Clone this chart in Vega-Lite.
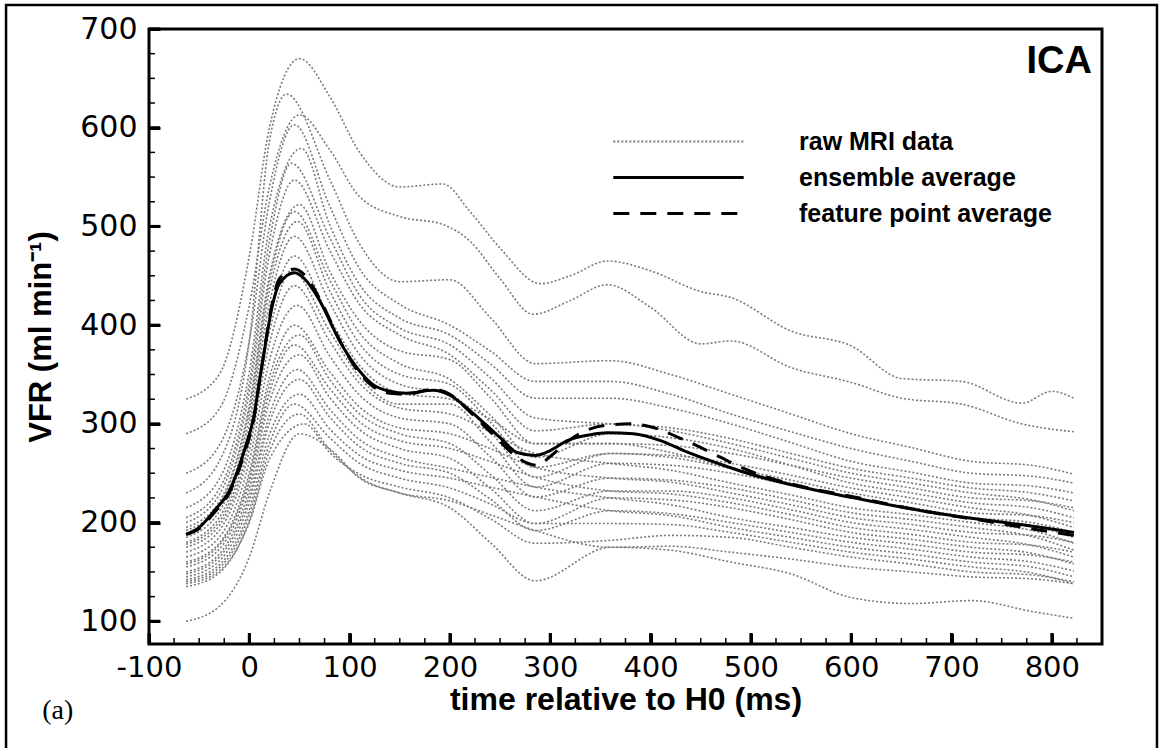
{
"$schema":"https://vega.github.io/schema/vega-lite/v6.json",
"width":953,"height":615,"autosize":"none",
"padding":{"left":149,"top":29,"right":58,"bottom":104},
"background":"white",
"config":{"view":{"stroke":"#000","strokeWidth":3},"font":"Liberation Sans","axis":{"ticks":true}},
"resolve":{"axis":{"x":"independent","y":"independent"}},
"datasets":{
"raw":[
{"c":1,"t":-63,"v":325},{"c":1,"t":-30,"v":350},{"c":1,"t":0,"v":470},{"c":1,"t":20,"v":600},{"c":1,"t":50,"v":670},{"c":1,"t":80,"v":632},{"c":1,"t":110,"v":575},{"c":1,"t":150,"v":540},{"c":1,"t":193,"v":543},{"c":1,"t":220,"v":515},{"c":1,"t":250,"v":478},{"c":1,"t":290,"v":442},{"c":1,"t":320,"v":450},{"c":1,"t":357,"v":465},{"c":1,"t":400,"v":455},{"c":1,"t":450,"v":434},{"c":1,"t":480,"v":428},{"c":1,"t":540,"v":394},{"c":1,"t":600,"v":379},{"c":1,"t":650,"v":346},{"c":1,"t":710,"v":343},{"c":1,"t":770,"v":321},{"c":1,"t":800,"v":333},{"c":1,"t":822,"v":326},
{"c":2,"t":-63,"v":290},{"c":2,"t":-30,"v":315},{"c":2,"t":0,"v":420},{"c":2,"t":20,"v":540},{"c":2,"t":50,"v":613},{"c":2,"t":80,"v":578},{"c":2,"t":110,"v":530},{"c":2,"t":150,"v":510},{"c":2,"t":193,"v":502},{"c":2,"t":220,"v":485},{"c":2,"t":250,"v":447},{"c":2,"t":283,"v":411},{"c":2,"t":320,"v":425},{"c":2,"t":357,"v":441},{"c":2,"t":400,"v":418},{"c":2,"t":450,"v":381},{"c":2,"t":480,"v":384},{"c":2,"t":540,"v":357},{"c":2,"t":600,"v":342},{"c":2,"t":650,"v":326},{"c":2,"t":710,"v":320},{"c":2,"t":770,"v":300},{"c":2,"t":822,"v":292},
{"c":3,"t":-63,"v":230},{"c":3,"t":-30,"v":262},{"c":3,"t":0,"v":384},{"c":3,"t":20,"v":586},{"c":3,"t":37,"v":634},{"c":3,"t":80,"v":548},{"c":3,"t":110,"v":482},{"c":3,"t":150,"v":444},{"c":3,"t":200,"v":446},{"c":3,"t":240,"v":408},{"c":3,"t":285,"v":361},{"c":3,"t":360,"v":364},{"c":3,"t":420,"v":350},{"c":3,"t":480,"v":330},{"c":3,"t":540,"v":310},{"c":3,"t":600,"v":290},{"c":3,"t":660,"v":276},{"c":3,"t":720,"v":262},{"c":3,"t":780,"v":258},{"c":3,"t":822,"v":249},
{"c":4,"t":-63,"v":250},{"c":4,"t":-30,"v":278},{"c":4,"t":0,"v":384},{"c":4,"t":20,"v":525},{"c":4,"t":45,"v":603},{"c":4,"t":80,"v":521},{"c":4,"t":110,"v":457},{"c":4,"t":150,"v":421},{"c":4,"t":200,"v":400},{"c":4,"t":240,"v":374},{"c":4,"t":285,"v":343},{"c":4,"t":360,"v":343},{"c":4,"t":420,"v":330},{"c":4,"t":480,"v":310},{"c":4,"t":540,"v":292},{"c":4,"t":600,"v":275},{"c":4,"t":660,"v":262},{"c":4,"t":720,"v":250},{"c":4,"t":780,"v":247},{"c":4,"t":822,"v":240},
{"c":5,"t":-63,"v":215},{"c":5,"t":-30,"v":244},{"c":5,"t":0,"v":353},{"c":5,"t":20,"v":499},{"c":5,"t":52,"v":579},{"c":5,"t":80,"v":502},{"c":5,"t":110,"v":441},{"c":5,"t":150,"v":407},{"c":5,"t":200,"v":390},{"c":5,"t":240,"v":361},{"c":5,"t":285,"v":326},{"c":5,"t":360,"v":326},{"c":5,"t":420,"v":316},{"c":5,"t":480,"v":300},{"c":5,"t":540,"v":281},{"c":5,"t":600,"v":262},{"c":5,"t":660,"v":251},{"c":5,"t":720,"v":240},{"c":5,"t":780,"v":237},{"c":5,"t":822,"v":230},
{"c":6,"t":-63,"v":205},{"c":6,"t":-30,"v":234},{"c":6,"t":0,"v":341},{"c":6,"t":20,"v":485},{"c":6,"t":42,"v":564},{"c":6,"t":80,"v":489},{"c":6,"t":110,"v":430},{"c":6,"t":150,"v":397},{"c":6,"t":200,"v":380},{"c":6,"t":240,"v":347},{"c":6,"t":285,"v":306},{"c":6,"t":360,"v":300},{"c":6,"t":420,"v":296},{"c":6,"t":480,"v":285},{"c":6,"t":540,"v":270},{"c":6,"t":600,"v":255},{"c":6,"t":660,"v":245},{"c":6,"t":720,"v":235},{"c":6,"t":780,"v":230},{"c":6,"t":822,"v":222},
{"c":7,"t":-63,"v":200},{"c":7,"t":-30,"v":228},{"c":7,"t":0,"v":332},{"c":7,"t":20,"v":471},{"c":7,"t":45,"v":547},{"c":7,"t":80,"v":476},{"c":7,"t":110,"v":421},{"c":7,"t":150,"v":390},{"c":7,"t":200,"v":370},{"c":7,"t":240,"v":335},{"c":7,"t":285,"v":293},{"c":7,"t":360,"v":300},{"c":7,"t":420,"v":293},{"c":7,"t":480,"v":280},{"c":7,"t":540,"v":265},{"c":7,"t":600,"v":250},{"c":7,"t":660,"v":240},{"c":7,"t":720,"v":230},{"c":7,"t":780,"v":223},{"c":7,"t":822,"v":212},
{"c":8,"t":-63,"v":195},{"c":8,"t":-30,"v":221},{"c":8,"t":0,"v":319},{"c":8,"t":20,"v":450},{"c":8,"t":50,"v":522},{"c":8,"t":80,"v":455},{"c":8,"t":110,"v":404},{"c":8,"t":150,"v":374},{"c":8,"t":200,"v":365},{"c":8,"t":240,"v":327},{"c":8,"t":285,"v":280},{"c":8,"t":360,"v":280},{"c":8,"t":420,"v":278},{"c":8,"t":480,"v":270},{"c":8,"t":540,"v":258},{"c":8,"t":600,"v":245},{"c":8,"t":660,"v":235},{"c":8,"t":720,"v":225},{"c":8,"t":780,"v":222},{"c":8,"t":822,"v":215},
{"c":9,"t":-63,"v":192},{"c":9,"t":-30,"v":218},{"c":9,"t":0,"v":315},{"c":9,"t":20,"v":444},{"c":9,"t":45,"v":515},{"c":9,"t":80,"v":446},{"c":9,"t":110,"v":392},{"c":9,"t":150,"v":361},{"c":9,"t":200,"v":345},{"c":9,"t":240,"v":309},{"c":9,"t":285,"v":266},{"c":9,"t":360,"v":290},{"c":9,"t":420,"v":286},{"c":9,"t":480,"v":275},{"c":9,"t":540,"v":258},{"c":9,"t":600,"v":240},{"c":9,"t":660,"v":230},{"c":9,"t":720,"v":220},{"c":9,"t":780,"v":215},{"c":9,"t":822,"v":205},
{"c":10,"t":-63,"v":185},{"c":10,"t":-30,"v":211},{"c":10,"t":0,"v":307},{"c":10,"t":20,"v":435},{"c":10,"t":48,"v":505},{"c":10,"t":80,"v":435},{"c":10,"t":110,"v":381},{"c":10,"t":150,"v":350},{"c":10,"t":200,"v":340},{"c":10,"t":240,"v":302},{"c":10,"t":285,"v":256},{"c":10,"t":360,"v":270},{"c":10,"t":420,"v":268},{"c":10,"t":480,"v":260},{"c":10,"t":540,"v":248},{"c":10,"t":600,"v":235},{"c":10,"t":660,"v":225},{"c":10,"t":720,"v":215},{"c":10,"t":780,"v":207},{"c":10,"t":822,"v":195},
{"c":11,"t":-63,"v":180},{"c":11,"t":-30,"v":205},{"c":11,"t":0,"v":298},{"c":11,"t":20,"v":422},{"c":11,"t":45,"v":490},{"c":11,"t":80,"v":423},{"c":11,"t":110,"v":370},{"c":11,"t":150,"v":340},{"c":11,"t":200,"v":330},{"c":11,"t":240,"v":292},{"c":11,"t":285,"v":246},{"c":11,"t":360,"v":270},{"c":11,"t":420,"v":266},{"c":11,"t":480,"v":255},{"c":11,"t":540,"v":243},{"c":11,"t":600,"v":230},{"c":11,"t":660,"v":220},{"c":11,"t":720,"v":210},{"c":11,"t":780,"v":207},{"c":11,"t":822,"v":200},
{"c":12,"t":-63,"v":178},{"c":12,"t":-30,"v":201},{"c":12,"t":0,"v":289},{"c":12,"t":20,"v":406},{"c":12,"t":45,"v":470},{"c":12,"t":80,"v":407},{"c":12,"t":110,"v":359},{"c":12,"t":150,"v":331},{"c":12,"t":200,"v":325},{"c":12,"t":240,"v":305},{"c":12,"t":285,"v":280},{"c":12,"t":360,"v":280},{"c":12,"t":420,"v":271},{"c":12,"t":480,"v":255},{"c":12,"t":540,"v":240},{"c":12,"t":600,"v":225},{"c":12,"t":660,"v":215},{"c":12,"t":720,"v":205},{"c":12,"t":780,"v":197},{"c":12,"t":822,"v":185},
{"c":13,"t":-63,"v":175},{"c":13,"t":-30,"v":197},{"c":13,"t":0,"v":281},{"c":13,"t":20,"v":393},{"c":13,"t":42,"v":455},{"c":13,"t":80,"v":394},{"c":13,"t":110,"v":347},{"c":13,"t":150,"v":320},{"c":13,"t":200,"v":320},{"c":13,"t":240,"v":282},{"c":13,"t":285,"v":236},{"c":13,"t":360,"v":260},{"c":13,"t":420,"v":258},{"c":13,"t":480,"v":250},{"c":13,"t":540,"v":238},{"c":13,"t":600,"v":225},{"c":13,"t":660,"v":215},{"c":13,"t":720,"v":205},{"c":13,"t":780,"v":200},{"c":13,"t":822,"v":190},
{"c":14,"t":-63,"v":170},{"c":14,"t":-30,"v":192},{"c":14,"t":0,"v":273},{"c":14,"t":20,"v":381},{"c":14,"t":45,"v":440},{"c":14,"t":80,"v":384},{"c":14,"t":110,"v":341},{"c":14,"t":150,"v":316},{"c":14,"t":200,"v":310},{"c":14,"t":240,"v":292},{"c":14,"t":285,"v":270},{"c":14,"t":360,"v":260},{"c":14,"t":420,"v":253},{"c":14,"t":480,"v":240},{"c":14,"t":540,"v":228},{"c":14,"t":600,"v":215},{"c":14,"t":660,"v":208},{"c":14,"t":720,"v":200},{"c":14,"t":780,"v":192},{"c":14,"t":822,"v":179},
{"c":15,"t":-63,"v":165},{"c":15,"t":-30,"v":185},{"c":15,"t":0,"v":262},{"c":15,"t":20,"v":364},{"c":15,"t":48,"v":420},{"c":15,"t":80,"v":369},{"c":15,"t":110,"v":329},{"c":15,"t":150,"v":306},{"c":15,"t":200,"v":300},{"c":15,"t":240,"v":267},{"c":15,"t":285,"v":226},{"c":15,"t":360,"v":245},{"c":15,"t":420,"v":243},{"c":15,"t":480,"v":235},{"c":15,"t":540,"v":223},{"c":15,"t":600,"v":210},{"c":15,"t":660,"v":203},{"c":15,"t":720,"v":195},{"c":15,"t":780,"v":186},{"c":15,"t":822,"v":172},
{"c":16,"t":-63,"v":160},{"c":16,"t":-30,"v":179},{"c":16,"t":0,"v":251},{"c":16,"t":20,"v":347},{"c":16,"t":45,"v":400},{"c":16,"t":80,"v":353},{"c":16,"t":110,"v":317},{"c":16,"t":150,"v":296},{"c":16,"t":200,"v":290},{"c":16,"t":240,"v":275},{"c":16,"t":285,"v":256},{"c":16,"t":360,"v":245},{"c":16,"t":420,"v":241},{"c":16,"t":480,"v":230},{"c":16,"t":540,"v":218},{"c":16,"t":600,"v":205},{"c":16,"t":660,"v":198},{"c":16,"t":720,"v":190},{"c":16,"t":780,"v":187},{"c":16,"t":822,"v":180},
{"c":17,"t":-63,"v":158},{"c":17,"t":-30,"v":177},{"c":17,"t":0,"v":246},{"c":17,"t":20,"v":339},{"c":17,"t":50,"v":390},{"c":17,"t":80,"v":345},{"c":17,"t":110,"v":310},{"c":17,"t":150,"v":290},{"c":17,"t":200,"v":280},{"c":17,"t":240,"v":249},{"c":17,"t":285,"v":212},{"c":17,"t":360,"v":232},{"c":17,"t":420,"v":232},{"c":17,"t":480,"v":225},{"c":17,"t":540,"v":213},{"c":17,"t":600,"v":200},{"c":17,"t":660,"v":193},{"c":17,"t":720,"v":185},{"c":17,"t":780,"v":177},{"c":17,"t":822,"v":165},
{"c":18,"t":-63,"v":155},{"c":18,"t":-30,"v":173},{"c":18,"t":0,"v":241},{"c":18,"t":20,"v":331},{"c":18,"t":45,"v":380},{"c":18,"t":80,"v":336},{"c":18,"t":110,"v":302},{"c":18,"t":150,"v":283},{"c":18,"t":200,"v":275},{"c":18,"t":240,"v":262},{"c":18,"t":285,"v":246},{"c":18,"t":360,"v":232},{"c":18,"t":420,"v":229},{"c":18,"t":480,"v":220},{"c":18,"t":540,"v":208},{"c":18,"t":600,"v":195},{"c":18,"t":660,"v":188},{"c":18,"t":720,"v":180},{"c":18,"t":780,"v":177},{"c":18,"t":822,"v":170},
{"c":19,"t":-63,"v":150},{"c":19,"t":-30,"v":168},{"c":19,"t":0,"v":234},{"c":19,"t":20,"v":322},{"c":19,"t":50,"v":370},{"c":19,"t":80,"v":327},{"c":19,"t":110,"v":294},{"c":19,"t":150,"v":275},{"c":19,"t":200,"v":265},{"c":19,"t":240,"v":235},{"c":19,"t":285,"v":199},{"c":19,"t":360,"v":225},{"c":19,"t":420,"v":223},{"c":19,"t":480,"v":215},{"c":19,"t":540,"v":203},{"c":19,"t":600,"v":190},{"c":19,"t":660,"v":183},{"c":19,"t":720,"v":175},{"c":19,"t":780,"v":169},{"c":19,"t":822,"v":158},
{"c":20,"t":-63,"v":148},{"c":20,"t":-30,"v":165},{"c":20,"t":0,"v":227},{"c":20,"t":20,"v":309},{"c":20,"t":48,"v":355},{"c":20,"t":80,"v":315},{"c":20,"t":110,"v":284},{"c":20,"t":150,"v":266},{"c":20,"t":200,"v":255},{"c":20,"t":240,"v":246},{"c":20,"t":285,"v":236},{"c":20,"t":360,"v":225},{"c":20,"t":420,"v":218},{"c":20,"t":480,"v":205},{"c":20,"t":540,"v":195},{"c":20,"t":600,"v":185},{"c":20,"t":660,"v":178},{"c":20,"t":720,"v":170},{"c":20,"t":780,"v":167},{"c":20,"t":822,"v":160},
{"c":21,"t":-63,"v":145},{"c":21,"t":-30,"v":161},{"c":21,"t":0,"v":221},{"c":21,"t":20,"v":301},{"c":21,"t":50,"v":345},{"c":21,"t":80,"v":307},{"c":21,"t":110,"v":277},{"c":21,"t":150,"v":260},{"c":21,"t":200,"v":250},{"c":21,"t":240,"v":224},{"c":21,"t":285,"v":192},{"c":21,"t":360,"v":212},{"c":21,"t":420,"v":209},{"c":21,"t":480,"v":200},{"c":21,"t":540,"v":190},{"c":21,"t":600,"v":180},{"c":21,"t":660,"v":173},{"c":21,"t":720,"v":165},{"c":21,"t":780,"v":160},{"c":21,"t":822,"v":151},
{"c":22,"t":-63,"v":142},{"c":22,"t":-30,"v":157},{"c":22,"t":0,"v":213},{"c":22,"t":20,"v":289},{"c":22,"t":50,"v":330},{"c":22,"t":80,"v":295},{"c":22,"t":110,"v":268},{"c":22,"t":150,"v":253},{"c":22,"t":200,"v":245},{"c":22,"t":240,"v":236},{"c":22,"t":285,"v":226},{"c":22,"t":360,"v":212},{"c":22,"t":420,"v":207},{"c":22,"t":480,"v":195},{"c":22,"t":540,"v":185},{"c":22,"t":600,"v":175},{"c":22,"t":660,"v":168},{"c":22,"t":720,"v":160},{"c":22,"t":780,"v":155},{"c":22,"t":822,"v":145},
{"c":23,"t":-63,"v":140},{"c":23,"t":-30,"v":154},{"c":23,"t":0,"v":208},{"c":23,"t":20,"v":280},{"c":23,"t":45,"v":320},{"c":23,"t":80,"v":286},{"c":23,"t":110,"v":260},{"c":23,"t":150,"v":245},{"c":23,"t":200,"v":235},{"c":23,"t":240,"v":219},{"c":23,"t":285,"v":199},{"c":23,"t":360,"v":199},{"c":23,"t":420,"v":198},{"c":23,"t":480,"v":190},{"c":23,"t":540,"v":180},{"c":23,"t":600,"v":170},{"c":23,"t":660,"v":163},{"c":23,"t":720,"v":155},{"c":23,"t":780,"v":149},{"c":23,"t":822,"v":138},
{"c":24,"t":-63,"v":138},{"c":24,"t":-30,"v":151},{"c":24,"t":0,"v":200},{"c":24,"t":20,"v":264},{"c":24,"t":55,"v":300},{"c":24,"t":80,"v":271},{"c":24,"t":110,"v":249},{"c":24,"t":150,"v":236},{"c":24,"t":200,"v":225},{"c":24,"t":240,"v":204},{"c":24,"t":285,"v":179},{"c":24,"t":360,"v":182},{"c":24,"t":420,"v":187},{"c":24,"t":480,"v":185},{"c":24,"t":540,"v":175},{"c":24,"t":600,"v":165},{"c":24,"t":660,"v":158},{"c":24,"t":720,"v":150},{"c":24,"t":780,"v":147},{"c":24,"t":822,"v":140},
{"c":25,"t":-63,"v":135},{"c":25,"t":-30,"v":149},{"c":25,"t":0,"v":202},{"c":25,"t":20,"v":272},{"c":25,"t":50,"v":310},{"c":25,"t":80,"v":274},{"c":25,"t":110,"v":246},{"c":25,"t":150,"v":230},{"c":25,"t":200,"v":222},{"c":25,"t":240,"v":208},{"c":25,"t":285,"v":192},{"c":25,"t":360,"v":175},{"c":25,"t":420,"v":176},{"c":25,"t":480,"v":170},{"c":25,"t":540,"v":163},{"c":25,"t":600,"v":155},{"c":25,"t":660,"v":150},{"c":25,"t":720,"v":145},{"c":25,"t":780,"v":143},{"c":25,"t":822,"v":138},
{"c":26,"t":-63,"v":100},{"c":26,"t":-30,"v":115},{"c":26,"t":0,"v":165},{"c":26,"t":20,"v":230},{"c":26,"t":50,"v":290},{"c":26,"t":80,"v":275},{"c":26,"t":110,"v":245},{"c":26,"t":150,"v":230},{"c":26,"t":200,"v":215},{"c":26,"t":240,"v":180},{"c":26,"t":285,"v":141},{"c":26,"t":360,"v":175},{"c":26,"t":420,"v":172},{"c":26,"t":480,"v":160},{"c":26,"t":540,"v":148},{"c":26,"t":600,"v":124},{"c":26,"t":660,"v":118},{"c":26,"t":720,"v":121},{"c":26,"t":780,"v":110},{"c":26,"t":822,"v":103}
],
"ens":[
{"t":-63,"v":188},{"t":-50,"v":195},{"t":-35,"v":212},{"t":-20,"v":232},{"t":-5,"v":273},{"t":5,"v":310},{"t":10,"v":343},{"t":15,"v":374},{"t":23,"v":420},{"t":30,"v":442},{"t":45,"v":453},{"t":55,"v":447},{"t":70,"v":425},{"t":90,"v":384},{"t":105,"v":360},{"t":123,"v":340},{"t":140,"v":333},{"t":157,"v":331},{"t":183,"v":334},{"t":200,"v":329},{"t":217,"v":316},{"t":235,"v":300},{"t":250,"v":286},{"t":267,"v":271},{"t":285,"v":268},{"t":300,"v":273},{"t":317,"v":283},{"t":340,"v":289},{"t":357,"v":291},{"t":383,"v":290},{"t":410,"v":283},{"t":433,"v":273},{"t":470,"v":259},{"t":490,"v":252},{"t":537,"v":239},{"t":603,"v":225},{"t":670,"v":212},{"t":737,"v":202},{"t":790,"v":195},{"t":822,"v":190}
],
"fpa":[
{"t":-63,"v":188},{"t":-50,"v":194},{"t":-35,"v":210},{"t":-20,"v":230},{"t":-5,"v":270},{"t":5,"v":308},{"t":10,"v":342},{"t":15,"v":375},{"t":23,"v":423},{"t":30,"v":447},{"t":45,"v":457},{"t":55,"v":451},{"t":70,"v":427},{"t":90,"v":385},{"t":105,"v":358},{"t":123,"v":338},{"t":140,"v":331},{"t":157,"v":330},{"t":183,"v":335},{"t":200,"v":330},{"t":217,"v":315},{"t":235,"v":297},{"t":250,"v":282},{"t":267,"v":266},{"t":278,"v":260},{"t":287,"v":258},{"t":300,"v":267},{"t":317,"v":282},{"t":340,"v":295},{"t":360,"v":299},{"t":380,"v":300},{"t":400,"v":297},{"t":433,"v":284},{"t":470,"v":266},{"t":490,"v":256},{"t":537,"v":240},{"t":603,"v":226},{"t":670,"v":212},{"t":737,"v":201},{"t":790,"v":192},{"t":822,"v":187}
],
"xmajor":[{"t":-100},{"t":0},{"t":100},{"t":200},{"t":300},{"t":400},{"t":500},{"t":600},{"t":700},{"t":800}],
"xminor":[{"t":-75},{"t":-50},{"t":-25},{"t":25},{"t":50},{"t":75},{"t":125},{"t":150},{"t":175},{"t":225},{"t":250},{"t":275},{"t":325},{"t":350},{"t":375},{"t":425},{"t":450},{"t":475},{"t":525},{"t":550},{"t":575},{"t":625},{"t":650},{"t":675},{"t":725},{"t":750},{"t":775},{"t":825}],
"ymajor":[{"v":100},{"v":200},{"v":300},{"v":400},{"v":500},{"v":600},{"v":700}],
"yminor":[{"v":125},{"v":150},{"v":175},{"v":225},{"v":250},{"v":275},{"v":325},{"v":350},{"v":375},{"v":425},{"v":450},{"v":475},{"v":525},{"v":550},{"v":575},{"v":625},{"v":650},{"v":675}]
},
"layer":[
{"data":{"name":"raw"},
 "mark":{"type":"line","interpolate":"monotone","strokeDash":[2,2],"strokeWidth":1.6},
 "encoding":{
  "x":{"field":"t","type":"quantitative","scale":{"domain":[-100,850],"nice":false,"zero":false},
   "axis":{"orient":"bottom","zindex":1,"ticks":true,"title":"time relative to H0 (ms)","values":[-100,0,100,200,300,400,500,600,700,800],
    "labelExpr":"'' + datum.value","offset":-11,"tickSize":11,"tickWidth":3,"tickColor":"#000","tickOpacity":1,"domain":false,"grid":false,
    "labelFont":"DejaVu Sans","labelFontSize":29,"labelColor":"#000","labelPadding":9,"labelFlush":false,"labelOverlap":false,
    "titleFont":"Liberation Sans","titleFontSize":32,"titleFontWeight":"bold","titleColor":"#000","titlePadding":2}},
  "y":{"field":"v","type":"quantitative","scale":{"domain":[77,700],"nice":false,"zero":false},
   "axis":{"orient":"left","zindex":1,"ticks":true,"title":"VFR (ml min⁻¹)","values":[100,200,300,400,500,600,700],
    "labelExpr":"'' + datum.value","offset":-11,"tickSize":11,"tickWidth":3,"tickColor":"#000","tickOpacity":1,"domain":false,"grid":false,
    "labelFont":"DejaVu Sans","labelFontSize":30,"labelColor":"#000","labelPadding":12,"labelFlush":false,"labelOverlap":false,
    "titleFont":"Liberation Sans","titleFontSize":31,"titleFontWeight":"bold","titleColor":"#000","titlePadding":22}},
  "detail":{"field":"c","type":"nominal"},
  "color":{"datum":"raw MRI data","scale":{"domain":["raw MRI data","ensemble average","feature point average"],"range":["#7a7a7a","#000000","#000000"]},
   "legend":{"orient":"none","legendX":517,"legendY":100,"title":null,"symbolType":"stroke","symbolSize":17000,"symbolStrokeWidth":3,"rowPadding":10,
    "labelFont":"Liberation Sans","labelFontSize":25,"labelFontWeight":"bold","labelColor":"#000","labelOffset":108,"labelLimit":400,"padding":0,
    "encode":{"symbols":{"update":{"strokeDash":{"signal":"datum.value === 'raw MRI data' ? [2,2] : datum.value === 'feature point average' ? [16,11] : [1,0]"},"strokeWidth":{"signal":"datum.value === 'raw MRI data' ? 2 : 3"}}}}}}
 }},
{"data":{"name":"fpa"},
 "mark":{"type":"line","interpolate":"monotone","strokeDash":[16,11],"strokeWidth":3},
 "encoding":{
  "x":{"field":"t","type":"quantitative","axis":null},
  "y":{"field":"v","type":"quantitative","axis":null},
  "color":{"datum":"feature point average"}}},
{"data":{"name":"ens"},
 "mark":{"type":"line","interpolate":"monotone","strokeWidth":3},
 "encoding":{"x":{"field":"t","type":"quantitative","axis":null},"y":{"field":"v","type":"quantitative","axis":null},"color":{"datum":"ensemble average"}}},
{"data":{"name":"xmajor"},
 "mark":{"type":"rule","color":"#000","strokeWidth":3},
 "encoding":{"x":{"field":"t","type":"quantitative","axis":null},"y":{"datum":77,"type":"quantitative","axis":null},"y2":{"datum":88.1}}},
{"data":{"name":"xminor"},
 "mark":{"type":"rule","color":"#000","strokeWidth":1.5},
 "encoding":{"x":{"field":"t","type":"quantitative","axis":null},"y":{"datum":77,"type":"quantitative","axis":null},"y2":{"datum":83.1}}},
{"data":{"name":"ymajor"},
 "mark":{"type":"rule","color":"#000","strokeWidth":3},
 "encoding":{"y":{"field":"v","type":"quantitative","axis":null},"x":{"datum":-100,"type":"quantitative","axis":null},"x2":{"datum":-89}}},
{"data":{"name":"yminor"},
 "mark":{"type":"rule","color":"#000","strokeWidth":1.5},
 "encoding":{"y":{"field":"v","type":"quantitative","axis":null},"x":{"datum":-100,"type":"quantitative","axis":null},"x2":{"datum":-94}}},
{"data":{"values":[{"label":"ICA"}]},
 "mark":{"type":"text","align":"right","baseline":"alphabetic","fontSize":38,"fontWeight":"bold","font":"Liberation Sans","color":"#000"},
 "encoding":{"x":{"datum":840,"type":"quantitative","axis":null},"y":{"datum":655,"type":"quantitative","axis":null},"text":{"field":"label"}}},
{"data":{"values":[{"label":"(a)"}]},
 "mark":{"type":"text","align":"center","baseline":"middle","fontSize":28,"font":"Liberation Serif","color":"#000"},
 "encoding":{"x":{"datum":-191,"type":"quantitative","axis":null},"y":{"datum":9,"type":"quantitative","axis":null},"text":{"field":"label"}}},
{"data":{"values":[{"frame":"figure"}]},
 "mark":{"type":"rect","filled":false,"stroke":"#000","strokeWidth":2.5},
 "encoding":{"x":{"datum":-242.5,"type":"quantitative","axis":null},"x2":{"datum":904.8},"y":{"datum":724.3,"type":"quantitative","axis":null},"y2":{"datum":-40}}}
]
}
